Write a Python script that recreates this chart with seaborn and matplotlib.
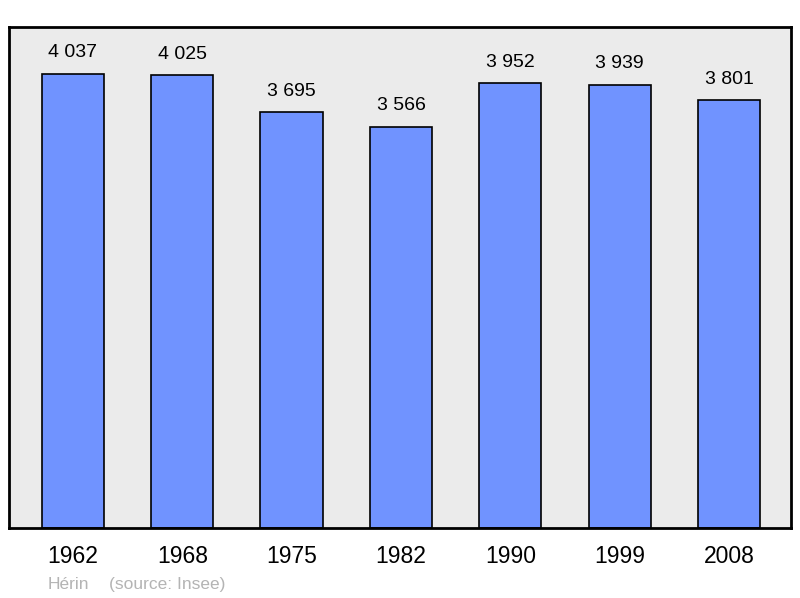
import matplotlib
matplotlib.use("Agg")
import matplotlib.pyplot as plt
import seaborn as sns
import pandas as pd

years = ["1962", "1968", "1975", "1982", "1990", "1999", "2008"]
population = [4037, 4025, 3695, 3566, 3952, 3939, 3801]
value_labels = ["4 037", "4 025", "3 695", "3 566", "3 952", "3 939", "3 801"]
commune = "Hérin"
source = "(source: Insee)"

sns.set_theme(style="white")
plt.rcParams['font.family'] = ['Liberation Sans', 'DejaVu Sans']

df = pd.DataFrame({"year": years, "pop": population})

fig = plt.figure(figsize=(8, 5.98), dpi=100)
ax = fig.add_axes([9/800, 70/598, 782/800, 501/598])
ax.set_facecolor("#ebebeb")

sns.barplot(data=df, x="year", y="pop", color="#7093ff", saturation=1,
            width=0.57, edgecolor="black", linewidth=1.2, ax=ax, zorder=2)

ax.set_xlim(-0.585, 6.567)
ax.set_ylim(0, 4453)
ax.set_yticks([])
ax.set_xlabel("")
ax.set_ylabel("")
ax.tick_params(axis="x", length=0, labelsize=16.5, pad=12, colors="black")
for s in ax.spines.values():
    s.set_visible(True)
    s.set_color("black")
    s.set_linewidth(2)

for i, (v, lab) in enumerate(zip(population, value_labels)):
    ax.annotate(lab, (i, v), xytext=(0, 9), textcoords="offset points",
                ha="center", va="bottom", fontsize=14, color="black")

fig.text(48/800, 1 - 589/598, commune, fontsize=12.5, color="#b4b4b4", va="baseline", ha="left")
fig.text(109/800, 1 - 589/598, source, fontsize=12.5, color="#b4b4b4", va="baseline", ha="left")

fig.savefig("out.png", dpi=100)
